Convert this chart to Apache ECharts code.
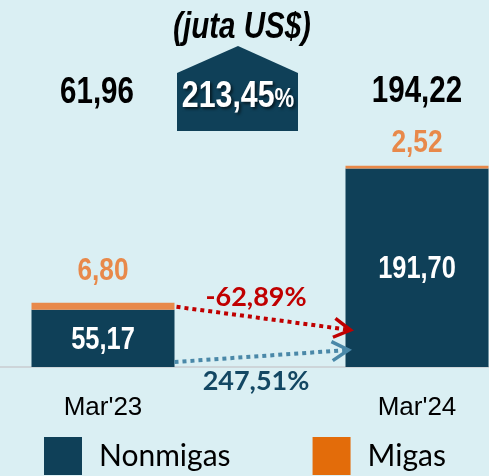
<!DOCTYPE html>
<html>
<head>
<meta charset="utf-8">
<style>
  html, body { margin: 0; padding: 0; background: #daeff3; overflow: hidden; width: 489px; height: 476px; }
  #chart { position: absolute; left: -54px; top: 0; width: 628px; height: 476px; }
</style>
<script src="https://cdn.jsdelivr.net/npm/echarts@6/dist/echarts.min.js"></script>
</head>
<body>
<div id="chart"></div>
<script>
const categories = ["Mar'23", "Mar'24"];
const nonmigas = [55.17, 191.70];
const migas = [6.80, 2.52];
const totals = [61.96, 194.22];
const totalGrowth = 213.45;
const nonmigasGrowth = 247.51;
const migasGrowth = -62.89;

const fmt = v => v.toFixed(2).replace('.', ',');
const SANS = "'Liberation Sans',Arial,sans-serif";
const DARK = '#0f4058';
const ORANGE = '#e8894a';
const OX = 54; // chart canvas starts 54px left of the page
const NX = 0.82; // horizontal squeeze to mimic a narrow face

const chart = echarts.init(document.getElementById('chart'));

chart.setOption({
  backgroundColor: '#daeff3',
  animation: false,
  grid: { left: 0, right: 0, top: 108, bottom: 109 },
  legend: {
    left: 39 + OX,
    top: 432,
    icon: 'rect',
    itemWidth: 38,
    itemHeight: 38,
    itemGap: 82,
    textStyle: { fontSize: 30, fontFamily: 'Lato', color: '#000', padding: [0, 0, 0, 12] },
    data: [
      { name: 'Nonmigas', itemStyle: { color: DARK } },
      { name: 'Migas', itemStyle: { color: '#e36c0a' } }
    ]
  },
  xAxis: {
    type: 'category',
    data: categories,
    axisLine: { lineStyle: { color: '#c8cdd0', width: 1.5 } },
    axisTick: { show: false },
    axisLabel: { fontSize: 26, fontFamily: SANS, color: '#000', margin: 28 }
  },
  yAxis: { type: 'value', min: 0, max: 250, show: false },
  series: [
    { name: 'Nonmigas', type: 'bar', stack: 'x', barWidth: 143, data: nonmigas, itemStyle: { color: DARK } },
    { name: 'Migas', type: 'bar', stack: 'x', barWidth: 143, data: migas, itemStyle: { color: ORANGE } }
  ]
});

const px = (i, v) => chart.convertToPixel({ xAxisIndex: 0, yAxisIndex: 0 }, [i, v]);
const base = px(0, 0)[1];
const half = 71.5;

function narrowText(x, y, text, size, fill) {
  return {
    type: 'text', x, y, scaleX: NX, z: 100,
    style: {
      text, font: 'bold ' + size + 'px ' + SANS, fill,
      align: 'center', verticalAlign: 'middle'
    }
  };
}
function chevron(x1, y1, x2, y2, color) {
  const a = Math.atan2(y2 - y1, x2 - x1);
  const L = 19, s = Math.PI / 6;
  return {
    type: 'polyline', z: 100,
    shape: { points: [
      [x2 - L * Math.cos(a - s), y2 - L * Math.sin(a - s)],
      [x2, y2],
      [x2 - L * Math.cos(a + s), y2 - L * Math.sin(a + s)]
    ] },
    style: { stroke: color, lineWidth: 3.5, fill: null }
  };
}
function dotted(x1, y1, x2, y2, color) {
  return {
    type: 'line', z: 100,
    shape: { x1, y1, x2, y2 },
    style: { stroke: color, lineWidth: 4, lineDash: [4, 4] }
  };
}

const labels = [];
categories.forEach((c, i) => {
  const nTop = px(i, nonmigas[i]);
  const tTop = px(i, totals[i]);
  // value inside the dark segment
  labels.push(narrowText(nTop[0], (nTop[1] + base) / 2 + 2, fmt(nonmigas[i]), 31, '#fff'));
  // migas value above the stack
  labels.push(narrowText(tTop[0], tTop[1] - (i === 0 ? 31.5 : 23), fmt(migas[i]), 32, ORANGE));
  // total on top row
  labels.push(narrowText(tTop[0] - (i === 0 ? 6 : 0), i === 0 ? 93 : 92, fmt(totals[i]), 36, '#000'));
});

const p0 = px(0, totals[0]);
const p1 = px(1, totals[1]);
const RED = '#c00000';
const BLUE = '#4a88a8';
const r = [p0[0] + half + 2, p0[1] + 4, p1[0] - half + 5, base - 37];
const b = [p0[0] + half, base - 5, p1[0] - half + 3, base - 17];
const shadow = { textShadowColor: 'rgba(0,0,0,0.6)', textShadowBlur: 3, textShadowOffsetX: 2, textShadowOffsetY: 2 };

chart.setOption({
  graphic: labels.concat([
    {
      type: 'text', x: 242 + OX, y: 28, scaleX: NX, z: 100,
      style: {
        text: '(juta US$)', font: 'italic bold 36px ' + SANS,
        fill: '#000', align: 'center', verticalAlign: 'middle'
      }
    },
    {
      type: 'polygon', z: 100,
      shape: { points: [[177 + OX, 73], [238 + OX, 46], [298 + OX, 73], [298 + OX, 131], [177 + OX, 131]] },
      style: { fill: DARK }
    },
    {
      type: 'text', x: 238 + OX, y: 97, scaleX: NX, z: 101,
      style: {
        text: '{a|' + fmt(totalGrowth) + '}{b|%}',
        align: 'center', verticalAlign: 'middle',
        rich: {
          a: Object.assign({ fontSize: 37, fontWeight: 'bold', fontFamily: SANS, fill: '#fff' }, shadow),
          b: Object.assign({ fontSize: 27, fontWeight: 'bold', fontFamily: SANS, fill: '#fff', padding: [6, 0, 0, 0] }, shadow)
        }
      }
    },
    dotted(r[0], r[1], r[2] - 3, r[3] - 0.4, RED),
    chevron(r[0], r[1], r[2], r[3], RED),
    dotted(b[0], b[1], b[2] - 3, b[3] + 0.2, BLUE),
    chevron(b[0], b[1], b[2], b[3], BLUE),
    {
      type: 'text', x: 256 + OX, y: 297, z: 100,
      style: {
        text: fmt(migasGrowth) + '%', font: 'bold 27px Lato',
        fill: RED, align: 'center', verticalAlign: 'middle'
      }
    },
    {
      type: 'text', x: 256 + OX, y: 381, z: 100,
      style: {
        text: fmt(nonmigasGrowth) + '%', font: 'bold 27px Lato',
        fill: '#134763', align: 'center', verticalAlign: 'middle'
      }
    }
  ])
});
</script>
</body>
</html>
